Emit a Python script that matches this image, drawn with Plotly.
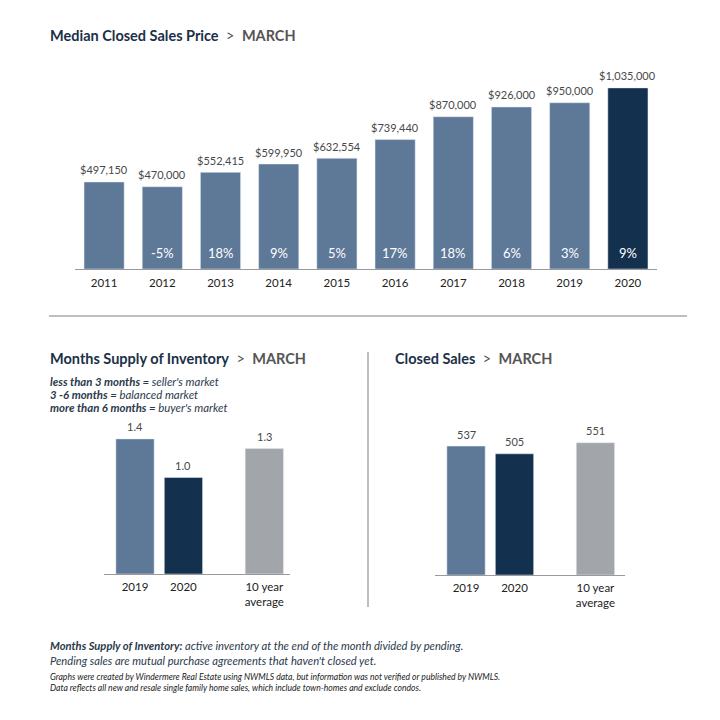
import plotly.graph_objects as go

# ---------------- data ----------------
years = ["2011", "2012", "2013", "2014", "2015", "2016", "2017", "2018", "2019", "2020"]
median_price = [497150, 470000, 552415, 599950, 632554, 739440, 870000, 926000, 950000, 1035000]
price_labels = ["$497,150", "$470,000", "$552,415", "$599,950", "$632,554", "$739,440",
                "$870,000", "$926,000", "$950,000", "$1,035,000"]
pct_change = ["", "-5%", "18%", "9%", "5%", "17%", "18%", "6%", "3%", "9%"]

cmp_cats = ["2019", "2020", "10 year<br>average"]
cmp_pos = [0, 1, 2.67]
supply = [1.4, 1.0, 1.3]
supply_labels = ["1.4", "1.0", "1.3"]
closed = [537, 505, 551]
closed_labels = ["537", "505", "551"]

SLATE = "#5e7898"
NAVY = "#14304f"
GRAY = "#a2a6aa"
LBL = "#484848"
TXT = "#222222"
FONT = "Lato"

W = H = 720
OFF = 8  # default page body margin
def px(x):
    return (x - OFF) / W
def py(y):
    return 1 - (y - OFF) / H

fig = go.Figure()

# ---- top chart ----
top_colors = [SLATE] * 9 + [NAVY]
idx = list(range(len(years)))
fig.add_trace(go.Bar(x=idx, y=median_price, marker_color=top_colors, width=0.69,
                     xaxis="x", yaxis="y", hoverinfo="skip"))
for i, v, lab, pc in zip(idx, median_price, price_labels, pct_change):
    fig.add_annotation(x=i, y=v, xref="x", yref="y", text=lab, showarrow=False,
                       yanchor="middle", yshift=12, font=dict(size=11, color=LBL, family=FONT))
    if pc:
        fig.add_annotation(x=i, y=0, xref="x", yref="y", text=pc, showarrow=False,
                           yanchor="middle", yshift=16, font=dict(size=13, color="white", family=FONT))

# ---- bottom-left chart ----
cmp_colors = [SLATE, NAVY, GRAY]
fig.add_trace(go.Bar(x=cmp_pos, y=supply, marker_color=cmp_colors, width=0.79,
                     xaxis="x2", yaxis="y2", hoverinfo="skip"))
for xp, v, lab in zip(cmp_pos, supply, supply_labels):
    fig.add_annotation(x=xp, y=v, xref="x2", yref="y2", text=lab, showarrow=False,
                       yanchor="middle", yshift=12, font=dict(size=11, color=LBL, family=FONT))

# ---- bottom-right chart ----
fig.add_trace(go.Bar(x=cmp_pos, y=closed, marker_color=cmp_colors, width=0.79,
                     xaxis="x3", yaxis="y3", hoverinfo="skip"))
for xp, v, lab in zip(cmp_pos, closed, closed_labels):
    fig.add_annotation(x=xp, y=v, xref="x3", yref="y3", text=lab, showarrow=False,
                       yanchor="middle", yshift=12, font=dict(size=11, color=LBL, family=FONT))

axis_common = dict(showgrid=False, zeroline=False, showline=True, linecolor="#9a9a9a",
                   linewidth=1, ticks="", tickfont=dict(size=11.5, color=TXT, family=FONT),
                   fixedrange=True)
yaxis_common = dict(showgrid=False, zeroline=False, showline=False, showticklabels=False,
                    ticks="", fixedrange=True)

fig.update_layout(
    width=W, height=H, margin=dict(l=0, r=0, t=0, b=0),
    paper_bgcolor="white", plot_bgcolor="white", showlegend=False,
    xaxis=dict(domain=[px(75), px(657)], range=[-0.5, 9.5], anchor="y",
               tickvals=idx, ticktext=years, ticklabelstandoff=3, **axis_common),
    yaxis=dict(domain=[py(269), py(59)], range=[0, 1.2e6], anchor="x", **yaxis_common),
    xaxis2=dict(domain=[px(104), px(290)], range=[-0.64, 3.2], anchor="y2",
                tickvals=cmp_pos, ticktext=cmp_cats, ticklabelstandoff=2, **axis_common),
    yaxis2=dict(domain=[py(574), py(381)], range=[0, 2.0], anchor="x2", **yaxis_common),
    xaxis3=dict(domain=[px(435), px(625)], range=[-0.64, 3.28], anchor="y3",
                tickvals=cmp_pos, ticktext=cmp_cats, ticklabelstandoff=2, **axis_common),
    yaxis3=dict(domain=[py(575), py(383)], range=[0, 800], anchor="x3", **yaxis_common),
)

def title(x, y, main):
    fig.add_annotation(xref="paper", yref="paper", x=px(x), y=py(y), xanchor="left",
                       yanchor="middle", showarrow=False,
                       text=f"<b>{main}</b><span style='color:#555555'>  &gt;  <b>MARCH</b></span>",
                       font=dict(size=14.5, color="#1b3048", family=FONT))

title(48, 36, "Median Closed Sales Price")
title(48, 358, "Months Supply of Inventory")
title(393, 358, "Closed Sales")

legend_lines = [
    ("less than 3 months =", " seller's market", 381),
    ("3 -6 months =", " balanced market", 394),
    ("more than 6 months =", " buyer's market", 407),
]
for b, r, yy in legend_lines:
    fig.add_annotation(xref="paper", yref="paper", x=px(48), y=py(yy), xanchor="left",
                       yanchor="middle", showarrow=False,
                       text=f"<b><i>{b}</i></b><i>{r}</i>",
                       font=dict(size=11.4, color="#2b3a4c", family=FONT))

foot = [
    ("<b><i>Months Supply of Inventory:</i></b><i> active inventory at the end of the month divided by pending.</i>", 645, 11.2),
    ("<i>Pending sales are mutual purchase agreements that haven't closed yet.</i>", 660, 11.2),
    ("<i>Graphs were created by Windermere Real Estate using NWMLS data, but information was not verified or published by NWMLS.</i>", 677, 8.6),
    ("<i>Data reflects all new and resale single family home sales, which include town-homes and exclude condos.</i>", 688, 8.6),
]
for t, yy, s in foot:
    fig.add_annotation(xref="paper", yref="paper", x=px(48), y=py(yy), xanchor="left",
                       yanchor="middle", showarrow=False, text=t,
                       font=dict(size=s, color="#2b3a4c" if s > 10 else "#222222", family=FONT))

# separators
fig.add_shape(type="line", xref="paper", yref="paper", x0=px(49), x1=px(687),
              y0=py(316), y1=py(316), line=dict(color="#a8a8a8", width=1.5))
fig.add_shape(type="line", xref="paper", yref="paper", x0=px(368), x1=px(368),
              y0=py(352), y1=py(607), line=dict(color="#a8a8a8", width=1.5))

fig.write_html("out.html")
